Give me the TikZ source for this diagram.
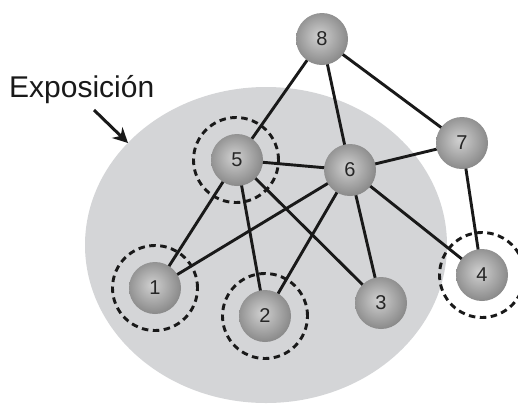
\documentclass[tikz,border=0pt]{standalone}
\usepackage{fontspec}
\setmainfont{Liberation Sans}
\usetikzlibrary{arrows.meta}
\definecolor{ellgray}{RGB}{212,213,215}
\definecolor{ballin}{RGB}{208,208,208}
\definecolor{ballmid}{RGB}{150,150,150}
\definecolor{ballout}{RGB}{75,75,75}
\pgfdeclareradialshading{nodeball}{\pgfpoint{-3bp}{3bp}}{color(0bp)=(ballin); color(22bp)=(ballmid); color(50bp)=(ballout); color(60bp)=(ballout)}
\begin{document}
\begin{tikzpicture}[x=1pt,y=-1pt,
  ballnode/.style={circle, shading=nodeball, minimum size=52pt, inner sep=0pt, font=\fontsize{20}{20}\selectfont, text=black!85},
  dcirc/.style={circle, draw=black!90, dashed, dash pattern=on 6.5pt off 4.5pt, line width=2.9pt, minimum size=85pt, inner sep=0pt},
  edge/.style={line width=2.9pt, black!90},
  lbl/.style={font=\fontsize{30}{30}\selectfont, text=black!90, inner sep=0pt}]
\useasboundingbox (0,0) rectangle (518,405);
\fill[ellgray] (266,245) ellipse [x radius=181, y radius=158];
% dashed rings
\node[dcirc] (d5) at (236,160) {};
\node[dcirc] (d1) at (155,288) {};
\node[dcirc] (d2) at (265,316) {};
\node[dcirc] (d4) at (482,275) {};
% node coordinates
\coordinate (p8) at (322,39);
\coordinate (p5) at (237,160);
\coordinate (p6) at (350,170);
\coordinate (p7) at (462,143);
\coordinate (p1) at (155,288);
\coordinate (p2) at (265,316);
\coordinate (p3) at (381,303);
\coordinate (p4) at (482,275);
% edges
\draw[edge] (p8) -- (p5);
\draw[edge] (p8) -- (p6);
\draw[edge] (p8) -- (p7);
\draw[edge] (p5) -- (p6);
\draw[edge] (p5) -- (p1);
\draw[edge] (p5) -- (p2);
\draw[edge] (p5) -- (p3);
\draw[edge] (p6) -- (p7);
\draw[edge] (p6) -- (p1);
\draw[edge] (p6) -- (p2);
\draw[edge] (p6) -- (p3);
\draw[edge] (p6) -- (p4);
\draw[edge] (p7) -- (p4);
% nodes
\node[ballnode] (n8) at (p8) {8};
\node[ballnode] (n5) at (p5) {5};
\node[ballnode] (n6) at (p6) {6};
\node[ballnode] (n7) at (p7) {7};
\node[ballnode] (n1) at (p1) {1};
\node[ballnode] (n2) at (p2) {2};
\node[ballnode] (n3) at (p3) {3};
\node[ballnode] (n4) at (p4) {4};
% label
\node[lbl, anchor=base west] (lab) at (9,97) {Exposición};
\coordinate (atail) at (94,110);
\coordinate (ahead) at (128,143);
\draw[line width=3pt, black!90, -{Stealth[length=15pt,width=15pt]}] (atail) -- (ahead);
\end{tikzpicture}
\end{document}
